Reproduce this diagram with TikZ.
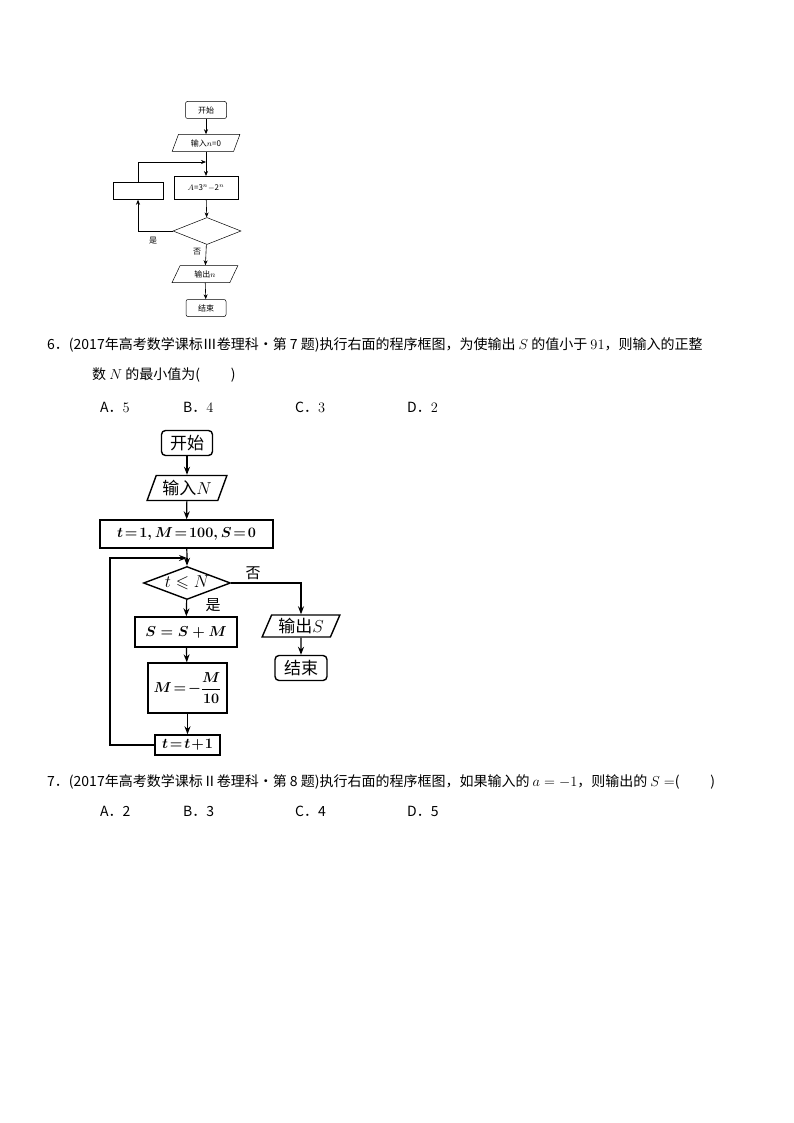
\documentclass[tikz,border=0pt]{standalone}
\usepackage{fontspec}
\usepackage{amsmath,amssymb}
\newfontfamily\cjk{Noto Sans CJK SC}
\usetikzlibrary{shapes.geometric,arrows.meta}
\begin{document}
\begin{tikzpicture}[x=1pt,y=-1pt,
 sm/.style={draw,line width=0.5pt,font=\cjk\fontsize{8}{9}\selectfont,inner sep=0pt},
 bg/.style={draw,line width=1.4pt,font=\fontsize{15.5}{18}\selectfont,inner sep=0pt},
 ar/.style={-{Stealth[length=5pt,width=4pt]},line width=0.6pt},
 arb/.style={-{Stealth[length=8pt,width=6pt]},line width=1.2pt},
 para/.style={trapezium,trapezium left angle=65,trapezium right angle=115},
 txt/.style={anchor=west,font=\cjk\fontsize{14}{16}\selectfont,inner sep=0pt}]
\useasboundingbox (0,0) rectangle (794,1123);
% small chart
\node[sm,rounded corners=2pt,minimum width=41,minimum height=17] (s1) at (206,110) {开始};
\node[sm,para,trapezium stretches=true,minimum width=68,minimum height=17] (s2) at (206,143) {输入$n$=0};
\node[sm,line width=1pt,minimum width=64,minimum height=23] (s3) at (206,188) {$A$=3$^n$$-$2$^n$};
\node[sm,minimum width=50,minimum height=17] (s4) at (138,191) {};
\node[sm,diamond,minimum width=68,minimum height=27,aspect=2.5] (s5) at (207,231) {};
\node[sm,para,trapezium stretches=true,minimum width=66,minimum height=17] (s6) at (205,274) {输出$n$};
\node[sm,rounded corners=2pt,minimum width=40,minimum height=17] (s7) at (206,308) {结束};
\draw[ar] (s1) -- (s2);
\draw[ar] (s2) -- (s3);
\draw[ar] (s3) -- (s5);
\draw[ar] (s5) -- (s6);
\draw[ar] (s6) -- (s7);
\draw[ar] (s5.west) -| (s4.south);
\draw[ar] (s4.north) |- (206,162);
\node[font=\cjk\fontsize{8}{9}\selectfont] (l1) at (153,241) {是};
\node[font=\cjk\fontsize{8}{9}\selectfont] (l2) at (197,252) {否};
% text 6
\node[txt] (t6) at (47,345) {6．(2017年高考数学课标Ⅲ卷理科·第 7 题)执行右面的程序框图，为使输出 $S$ 的值小于 $91$，则输入的正整};
\node[txt] (t6b) at (92,375) {数 $N$ 的最小值为(\hspace{2.2em})};
\node[txt] (a6) at (100,407) {A．$5$};
\node[txt] (b6) at (183,407) {B．$4$};
\node[txt] (c6) at (295,407) {C．$3$};
\node[txt] (d6) at (407,407) {D．$2$};
% big chart
\node[bg,rounded corners=4pt,minimum width=51,minimum height=25,font=\cjk\fontsize{17}{19}\selectfont] (b1) at (187,443) {开始};
\node[bg,para,trapezium stretches=true,minimum width=80,minimum height=25,font=\cjk\fontsize{17}{19}\selectfont] (b2) at (187,488) {输入$N$};
\node[bg,minimum width=173,minimum height=28] (b3) at (186.5,534) {$\boldsymbol{t\!=\!1,M\!=\!100,S\!=\!0}$};
\coordinate (j) at (187,558);
\node[bg,diamond,aspect=2.6,minimum width=87,minimum height=33,font=\fontsize{17}{19}\selectfont] (b4) at (187,583) {$t\leqslant N$};
\node[bg,minimum width=102,minimum height=30] (b5) at (186,632) {$\boldsymbol{S=S+M}$};
\node[bg,minimum width=79,minimum height=50] (b6) at (187.5,688) {$\boldsymbol{M\!=\!-\dfrac{M}{10}}$};
\node[bg,minimum width=65,minimum height=20] (b7) at (187.5,745) {$\boldsymbol{t\!=\!t\!+\!1}$};
\node[bg,para,trapezium stretches=true,minimum width=78,minimum height=22,font=\cjk\fontsize{17}{19}\selectfont] (b8) at (301,626) {输出$S$};
\node[bg,rounded corners=4pt,minimum width=52,minimum height=25,font=\cjk\fontsize{17}{19}\selectfont] (b9) at (301,668) {结束};
\draw[arb] (b1) -- (b2);
\draw[arb] (b2) -- (b3);
\draw[line width=1.2pt] (b3) -- (j);
\draw[arb] (j) -- (b4);
\draw[arb] (b4) -- (b5);
\draw[arb] (b5) -- (b6);
\draw[arb] (b6) -- (b7);
\draw[arb] (b4.east) -| (b8.north);
\draw[arb] (b8) -- (b9);
\draw[arb] (b7.west) -| (110,558) -- (j);
\node[font=\cjk\fontsize{15}{17}\selectfont] (ls) at (213,605) {是};
\node[font=\cjk\fontsize{15}{17}\selectfont] (ln) at (253,573) {否};
% text 7
\node[txt] (t7) at (47,782) {7．(2017年高考数学课标Ⅱ卷理科·第 8 题)执行右面的程序框图，如果输入的 $a=-1$，则输出的 $S=$(\hspace{2.2em})};
\node[txt] (a7) at (100,811) {A．2};
\node[txt] (b7t) at (183,811) {B．3};
\node[txt] (c7) at (295,811) {C．4};
\node[txt] (d7) at (407,811) {D．5};
\end{tikzpicture}
\end{document}
